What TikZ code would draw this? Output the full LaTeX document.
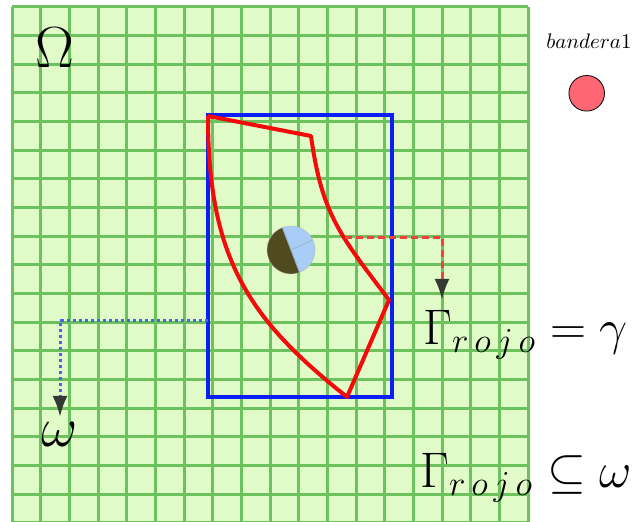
\documentclass[tikz,border=0pt]{standalone}
\usepackage{fix-cm}
\usetikzlibrary{arrows.meta}
\definecolor{gridfill}{HTML}{E0FAC8}
\definecolor{gridline}{HTML}{6CC35E}
\definecolor{rectblue}{HTML}{0A1EF5}
\definecolor{curvered}{HTML}{F50A0A}
\definecolor{dashred}{HTML}{F54040}
\definecolor{dotblue}{HTML}{4466E8}
\definecolor{flagred}{HTML}{FF6673}
\definecolor{piedark}{HTML}{4F4B1E}
\definecolor{pielight}{HTML}{A9CDF7}
\definecolor{tipgray}{HTML}{343934}
\tikzset{
  bigmath/.style={font=\fontsize{28}{32}\selectfont, inner sep=0pt, anchor=base},
  relmath/.style={font=\fontsize{25}{30}\selectfont, inner sep=0pt, anchor=base west},
  reddash/.style={draw=dashred, line width=1.5pt, dash pattern=on 3.5pt off 2pt},
  bluedot/.style={draw=dotblue, line width=1.5pt, dash pattern=on 1.5pt off 1.5pt},
  darktip/.style={-{Latex[length=10.5pt,width=7.5pt,color=tipgray]}}
}
\newcommand{\rojo}{r\,o\,j\,o}

\begin{document}
\begin{tikzpicture}[x=0.5pt, y=-0.5pt]
\useasboundingbox (0,0) rectangle (638,522);

% the domain with its grid
\begin{scope}
\clip (0,0) rectangle (638,522);
\fill[gridfill] (12,6.7) rectangle (528,522.8);
\foreach \k in {0,...,18} {
  \draw[gridline, line width=1.5pt] ({12+28.67*\k},6.7) -- ({12+28.67*\k},522.8);
  \draw[gridline, line width=1.5pt] (12,{6.7+28.67*\k}) -- (528,{6.7+28.67*\k});
}
\end{scope}

\node[bigmath, font=\fontsize{29}{34}\selectfont] (omega) at (54.5,68) {$\Omega$};

% flag
\node[font=\fontsize{10.5}{12}\selectfont, inner sep=0pt, anchor=base] (flaglbl) at (589,49) {$bandera1$};
\node[circle, draw=black, line width=0.4pt, fill=flagred, minimum size=17.8pt, inner sep=0pt] (flag) at (586.7,93.3) {};

% blue box and red region
\draw[rectblue, line width=2pt] (207.5,115) rectangle (391.5,397.5);
\coordinate (boxleft) at (207.5,320.5);
\draw[curvered, line width=2pt, line join=round]
  (208,116) -- (311,136)
  .. controls (322,215) and (340,235) .. (389,300)
  -- (347,397)
  .. controls (250,320) and (208,260) .. (208,116);
\coordinate (redpt) at (345,237.5);

% pie
\coordinate (pie) at (291,250);
\fill[piedark] (pie) -- ++(111:12pt) arc[start angle=111, end angle=291, radius=12pt] -- cycle;
\fill[pielight] (pie) -- ++(-69:12pt) arc[start angle=-69, end angle=111, radius=12pt] -- cycle;
\draw[pielight!70!gray, line width=0.5pt] (pie) -- ++(25:12pt);
\draw[pielight!60!gray, line width=0.5pt] (pie) ++(111:12pt) -- ++(-69:24pt);
\draw[gray!60, line width=0.3pt, opacity=0.6] (pie) circle[radius=12pt];

% labels
\node[relmath] (gammalbl) at (423,345) {$\Gamma_{\rojo} = \gamma$};
\node[relmath] (subsetlbl) at (420,488) {$\Gamma_{\rojo} \subseteq \omega$};
\node[bigmath] (smallomega) at (60,447) {$\omega$};
\coordinate (redend) at (442,300);
\coordinate (blueend) at (60,417);

% connectors
\draw[reddash, darktip] (redpt) -| (redend);
\draw[bluedot, darktip] (boxleft) -| (blueend);
\end{tikzpicture}
\end{document}
